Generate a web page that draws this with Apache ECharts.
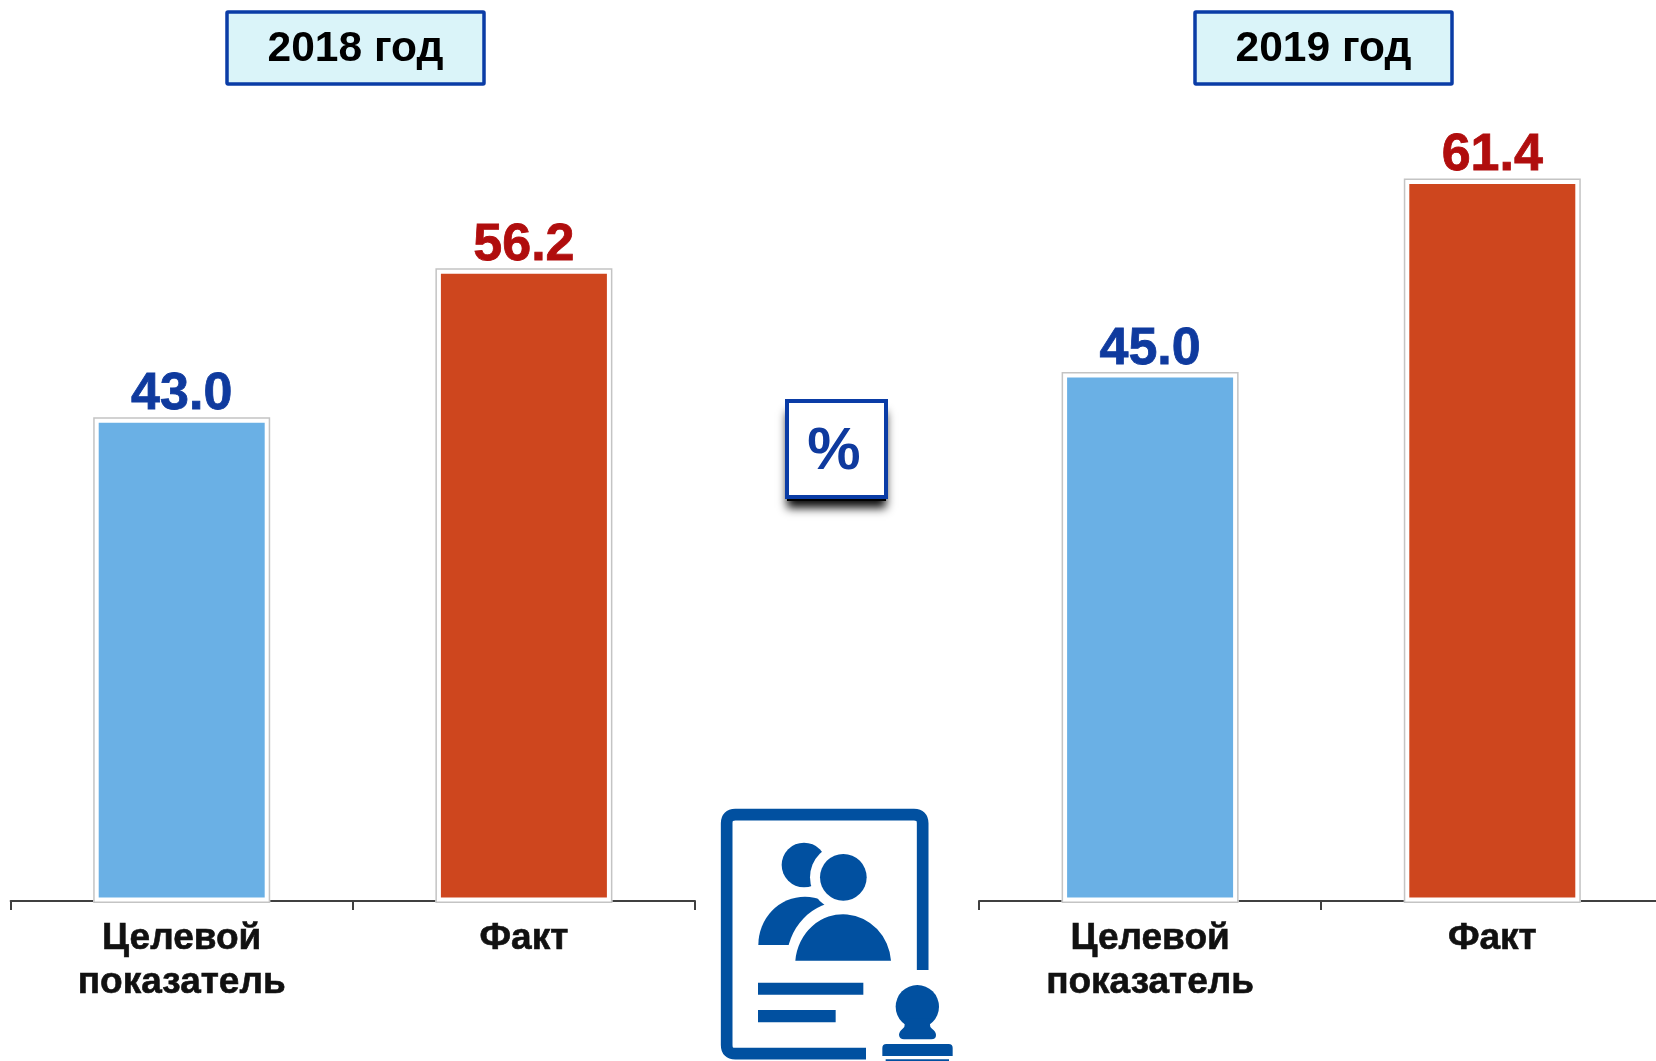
<!DOCTYPE html>
<html lang="ru">
<head>
    <meta charset="UTF-8">
    <title>Целевой показатель и факт</title>
    <script src="https://cdn.jsdelivr.net/npm/echarts@6/dist/echarts.min.js"></script>
    <style>
        body {
            margin: 0;
            background: #ffffff;
        }
        #chart {
            width: 1656px;
            height: 1061px;
        }
    </style>
</head>
<body>
    <div id="chart"></div>

    <script>
        // данные графика
        const categories = ['Целевой\nпоказатель', 'Факт'];
        const values2018 = [43.0, 56.2];
        const values2019 = [45.0, 61.4];
        const yearLabels = ['2018 год', '2019 год'];
        const unitLabel = '%';

        const FONT = '"Liberation Sans", Arial, sans-serif';
        const BLUE_TEXT = '#0f3a9e';
        const RED_TEXT = '#b00d0d';
        const BAR_COLORS = ['#6ab0e5', '#ce461e'];
        const LABEL_COLORS = [BLUE_TEXT, RED_TEXT];
        const BOX_BORDER = '#0a3ca6';
        const ICON = '#0150a0';

        const chart = echarts.init(document.getElementById('chart'));

        function makeAxis(gridIndex) {
            return {
                type: 'category',
                gridIndex: gridIndex,
                data: categories,
                offset: -2,
                axisLine: { lineStyle: { color: '#404040', width: 2 } },
                axisTick: { show: true, length: 9, alignWithLabel: false, lineStyle: { color: '#404040', width: 2 } },
                axisLabel: {
                    interval: 0,
                    margin: 16,
                    color: '#111111',
                    fontFamily: FONT,
                    fontWeight: 'bold',
                    fontSize: 37,
                    lineHeight: 44,
                    textBorderColor: '#111111',
                    textBorderWidth: 0.6
                }
            };
        }

        // заливка с белой рамкой, поверх неё тонкий серый контур
        function makeSeries(values, gridIndex) {
            return [
                {
                    type: 'bar',
                    xAxisIndex: gridIndex,
                    yAxisIndex: gridIndex,
                    barWidth: 177,
                    barGap: '-100%',
                    silent: true,
                    animation: false,
                    data: values.map((v, i) => ({
                        value: v,
                        itemStyle: { color: BAR_COLORS[i], borderColor: '#ffffff', borderWidth: 5.5 },
                        label: { color: LABEL_COLORS[i], textBorderColor: LABEL_COLORS[i] }
                    })),
                    label: {
                        show: true,
                        position: 'top',
                        distance: -3.5,
                        fontFamily: FONT,
                        fontWeight: 'bold',
                        fontSize: 52,
                        textBorderWidth: 0.8,
                        formatter: p => p.value.toFixed(1)
                    }
                },
                {
                    type: 'bar',
                    xAxisIndex: gridIndex,
                    yAxisIndex: gridIndex,
                    barWidth: 177,
                    barGap: '-100%',
                    silent: true,
                    animation: false,
                    itemStyle: { color: 'transparent', borderColor: '#c4c4c4', borderWidth: 1.5 },
                    data: values
                }
            ];
        }

        function yearBox(x, text) {
            return {
                type: 'group',
                x: x,
                y: 12,
                children: [
                    {
                        type: 'rect',
                        shape: { x: 1, y: 0, width: 257, height: 72, r: 1 },
                        style: { fill: '#daf4f9', stroke: BOX_BORDER, lineWidth: 3.5 }
                    },
                    {
                        type: 'text',
                        x: 129.5,
                        y: 37,
                        style: {
                            text: text,
                            fill: '#000000',
                            font: 'bold 42.5px ' + FONT,
                            textAlign: 'center',
                            textVerticalAlign: 'middle'
                        }
                    }
                ]
            };
        }

        // значок: документ с людьми и печатью (координаты внутри группы, масштаб 1/3)
        function renderIcon() {
            const solid = { fill: ICON };
            const white = { fill: '#ffffff' };
            const path = (d, style) => ({ type: 'path', shape: { pathData: d }, style: style });
            return {
                type: 'group',
                x: 700,
                y: 780,
                scaleX: 1 / 3,
                scaleY: 1 / 3,
                children: [
                    path('M668 570 V130 Q668 104 642 104 H106 Q80 104 80 130 V795 Q80 821 106 821 H498',
                        { fill: 'none', stroke: ICON, lineWidth: 35 }),
                    { type: 'circle', shape: { cx: 312, cy: 255, r: 67 }, style: solid },
                    path('M175 495 A140 145 0 0 1 455 495 Z', solid),
                    { type: 'circle', shape: { cx: 430, cy: 292, r: 100 }, style: white },
                    path('M260 542 A170 178 0 0 1 600 542 Z', white),
                    { type: 'rect', shape: { x: 255, y: 495, width: 220, height: 50 }, style: white },
                    { type: 'circle', shape: { cx: 430, cy: 292, r: 70 }, style: solid },
                    path('M286 542 A144 152 0 0 1 573 542 Z', solid),
                    { type: 'rect', shape: { x: 174, y: 608, width: 316, height: 36 }, style: solid },
                    { type: 'rect', shape: { x: 174, y: 690, width: 233, height: 37 }, style: solid },
                    { type: 'circle', shape: { cx: 652, cy: 680, r: 65 }, style: solid },
                    path('M606 715 Q622 735 608 746 Q597 755 597 765 Q599 778 612 778 H694 Q708 778 708 765 Q708 755 696 746 Q682 735 698 715 Z', solid),
                    path('M547 828 V804 Q547 792 559 792 H746 Q758 792 758 804 V828 Z', solid),
                    { type: 'rect', shape: { x: 557, y: 838, width: 190, height: 6 }, style: solid }
                ]
            };
        }

        const option = {
            backgroundColor: '#ffffff',
            animation: false,
            grid: [
                { left: 10.6, top: 112.4, width: 684.4, height: 790.6, outerBoundsMode: 'none' },
                { left: 979, top: 77, width: 684.4, height: 826, outerBoundsMode: 'none' }
            ],
            xAxis: [makeAxis(0), makeAxis(1)],
            yAxis: [
                { type: 'value', gridIndex: 0, min: 0, max: 70, show: false },
                { type: 'value', gridIndex: 1, min: 0, max: 70, show: false }
            ],
            series: [
                ...makeSeries(values2018, 0),
                ...makeSeries(values2019, 1),
                {
                    type: 'custom',
                    coordinateSystem: 'none',
                    silent: true,
                    animation: false,
                    data: [[0]],
                    renderItem: renderIcon
                }
            ],
            graphic: [
                yearBox(226, yearLabels[0]),
                yearBox(1194, yearLabels[1]),
                {
                    type: 'rect',
                    shape: { x: 787, y: 405, width: 99, height: 96 },
                    style: {
                        fill: '#000000',
                        shadowColor: 'rgba(0,0,0,0.95)',
                        shadowBlur: 9,
                        shadowOffsetY: 7
                    }
                },
                {
                    type: 'rect',
                    shape: { x: 787, y: 401, width: 99, height: 96 },
                    style: { fill: '#ffffff', stroke: BOX_BORDER, lineWidth: 4 }
                },
                {
                    type: 'text',
                    x: 834,
                    y: 452,
                    style: {
                        text: unitLabel,
                        fill: BLUE_TEXT,
                        font: 'bold 60px ' + FONT,
                        textAlign: 'center',
                        textVerticalAlign: 'middle'
                    }
                }
            ]
        };

        chart.setOption(option);
    </script>
</body>
</html>
